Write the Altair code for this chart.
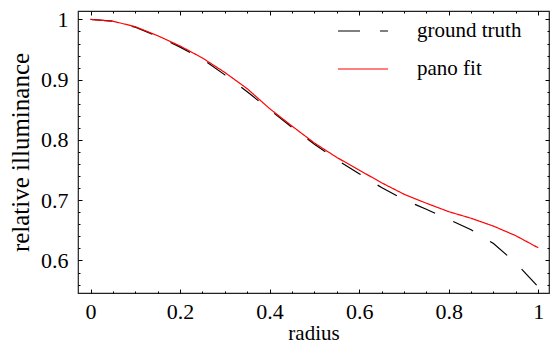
import altair as alt
import pandas as pd

# ---- data ----
radius = [0.0, 0.05, 0.10, 0.15, 0.20, 0.25, 0.30, 0.35, 0.40, 0.45, 0.50,
          0.55, 0.60, 0.65, 0.70, 0.75, 0.80, 0.85, 0.90, 0.95, 1.00]
ground_truth = [1.000, 0.997, 0.987, 0.972, 0.954, 0.934, 0.908, 0.880, 0.850, 0.821, 0.793,
                0.767, 0.744, 0.721, 0.701, 0.685, 0.668, 0.651, 0.628, 0.596, 0.556]
pano_fit = [1.000, 0.997, 0.988, 0.973, 0.956, 0.936, 0.912, 0.885, 0.852, 0.823, 0.795,
            0.771, 0.750, 0.729, 0.710, 0.695, 0.681, 0.670, 0.657, 0.641, 0.621]
series_names = ["ground truth", "pano fit"]
series_colors = ["#000000", "#ff0000"]
series_dashes = [[22, 20], [1, 0]]

x_ticks_major = [0, 0.2, 0.4, 0.6, 0.8, 1.0]
x_ticks_all = [0, 0.05, 0.1, 0.15, 0.2, 0.25, 0.3, 0.35, 0.4, 0.45, 0.5,
               0.55, 0.6, 0.65, 0.7, 0.75, 0.8, 0.85, 0.9, 0.95, 1.0]
y_ticks_major = [0.6, 0.7, 0.8, 0.9, 1.0]
y_ticks_all = [0.56, 0.58, 0.6, 0.62, 0.64, 0.66, 0.68, 0.7, 0.72, 0.74, 0.76, 0.78,
               0.8, 0.82, 0.84, 0.86, 0.88, 0.9, 0.92, 0.94, 0.96, 0.98, 1.0]

rows = []
for name, vals in zip(series_names, [ground_truth, pano_fit]):
    for r, v in zip(radius, vals):
        rows.append({"radius": r, "value": v, "series": name})
df = pd.DataFrame(rows)

W, H = 471, 282
FONT = "Liberation Serif"

xscale = alt.Scale(domain=[-0.028, 1.024], nice=False, zero=False)
yscale = alt.Scale(domain=[0.546, 1.014], nice=False, zero=False)

legend = alt.Legend(
    orient="none", legendX=271.5, legendY=6.5, title=None,
    symbolType="M-2,0L2,0", symbolSize=625, symbolStrokeWidth=1.2,
    labelFont=FONT, labelFontSize=21, labelColor="black", labelOffset=40.5,
    rowPadding=14, padding=0,
)

x_main = alt.X("radius:Q", scale=xscale,
               axis=alt.Axis(values=x_ticks_major, ticks=False, domain=False, grid=False,
                             format="~g", labelPadding=8, title="radius", titlePadding=0,
                             titleFontSize=21))
y_main = alt.Y("value:Q", scale=yscale,
               axis=alt.Axis(values=y_ticks_major, ticks=False, domain=False, grid=False,
                             format="~g", labelPadding=10, title="relative illuminance",
                             titlePadding=7, titleFontSize=25))
color_enc = alt.Color("series:N", scale=alt.Scale(domain=series_names, range=series_colors),
                      legend=legend)
dash_enc = alt.StrokeDash("series:N", scale=alt.Scale(domain=series_names, range=series_dashes),
                          legend=legend)

gt_layer = alt.Chart(df).transform_filter(
    alt.datum.series == series_names[0]
).mark_line(strokeWidth=1.2).encode(x=x_main, y=y_main, color=color_enc, strokeDash=dash_enc)

fit_layer = alt.Chart(df).transform_filter(
    alt.datum.series == series_names[1]
).mark_line(strokeWidth=1.2).encode(
    x=alt.X("radius:Q", scale=xscale, axis=None),
    y=alt.Y("value:Q", scale=yscale, axis=None),
    color=color_enc, strokeDash=dash_enc,
)

x_tick_size = {"condition": {"test": "abs(datum.value*5 - round(datum.value*5)) < 0.001", "value": 4}, "value": 2}
y_tick_size = {"condition": {"test": "abs(datum.value*10 - round(datum.value*10)) < 0.001", "value": 4}, "value": 2}

def tick_layer(x_orient, y_orient):
    return alt.Chart(df).mark_point(opacity=0).encode(
        x=alt.X("radius:Q", scale=xscale,
                axis=alt.Axis(orient=x_orient, offset=-H, values=x_ticks_all, labels=False,
                              domain=False, grid=False, title=None, tickSize=x_tick_size,
                              tickColor="black", tickWidth=1)),
        y=alt.Y("value:Q", scale=yscale,
                axis=alt.Axis(orient=y_orient, offset=-W, values=y_ticks_all, labels=False,
                              domain=False, grid=False, title=None, tickSize=y_tick_size,
                              tickColor="black", tickWidth=1)),
    )

ticks_a = tick_layer("top", "right")    # ticks on bottom and left edges, pointing inward
ticks_b = tick_layer("bottom", "left")  # ticks on top and right edges, pointing inward

chart = alt.layer(gt_layer, fit_layer, ticks_a, ticks_b).resolve_axis(
    x="independent", y="independent"
).properties(
    width=W, height=H,
    autosize=alt.AutoSizeParams(type="none"),
    padding={"left": 70, "top": 3, "right": 1, "bottom": 53},
).configure_view(
    stroke="#222222", strokeWidth=1.2
).configure_axis(
    labelFont=FONT, labelFontSize=22, labelColor="black",
    titleFont=FONT, titleFontWeight="normal", titleColor="black",
    labelOverlap=False,
)

chart.save("out.html", embed_options={"renderer": "svg", "actions": False})
